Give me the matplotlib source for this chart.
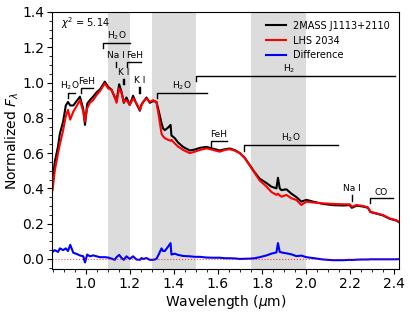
import numpy as np
import matplotlib
matplotlib.use('Agg')
import matplotlib.pyplot as plt
from matplotlib.ticker import MultipleLocator

# wavelength grid (micron) and the two normalized spectra
wave = [0.850, 0.860, 0.875, 0.883, 0.898, 0.910, 0.920, 0.930, 0.944, 0.956,
        0.974, 0.989, 0.997, 1.007, 1.019, 1.034, 1.050, 1.064, 1.087, 1.102,
        1.117, 1.132, 1.140, 1.152, 1.163, 1.173, 1.185, 1.200, 1.215, 1.230,
        1.246, 1.253, 1.261, 1.276, 1.291, 1.306, 1.321, 1.333, 1.344, 1.351,
        1.359, 1.374, 1.385, 1.389, 1.404, 1.419, 1.442, 1.472, 1.495, 1.518,
        1.548, 1.578, 1.608, 1.631, 1.654, 1.676, 1.699, 1.722, 1.744, 1.767,
        1.789, 1.820, 1.842, 1.865, 1.872, 1.880, 1.888, 1.910, 1.933, 1.956,
        1.978, 2.001, 2.031, 2.076, 2.122, 2.167, 2.197, 2.207, 2.228, 2.258,
        2.280, 2.291, 2.318, 2.348, 2.378, 2.408, 2.420]

lhs2034 = [0.39, 0.50, 0.60, 0.65, 0.73, 0.81, 0.845, 0.79, 0.835, 0.86,
           0.90, 0.835, 0.78, 0.855, 0.885, 0.90, 0.93, 0.95, 0.995, 0.967,
           0.958, 0.92, 0.885, 0.967, 0.94, 0.89, 0.90, 0.873, 0.91, 0.883,
           0.845, 0.87, 0.89, 0.91, 0.89, 0.90, 0.89, 0.80, 0.71, 0.695,
           0.685, 0.675, 0.67, 0.675, 0.655, 0.637, 0.618, 0.60, 0.608, 0.618,
           0.627, 0.618, 0.608, 0.618, 0.622, 0.614, 0.60, 0.571, 0.53, 0.486,
           0.445, 0.41, 0.38, 0.363, 0.37, 0.36, 0.353, 0.363, 0.344, 0.334,
           0.306, 0.325, 0.32, 0.315, 0.312, 0.31, 0.31, 0.296, 0.306, 0.30,
           0.293, 0.268, 0.259, 0.249, 0.23, 0.22, 0.21]

j1113 = [0.43, 0.55, 0.64, 0.71, 0.78, 0.87, 0.89, 0.87, 0.87, 0.89,
         0.92, 0.85, 0.76, 0.88, 0.90, 0.92, 0.945, 0.96, 1.005, 0.975,
         0.96, 0.915, 0.895, 0.99, 0.945, 0.885, 0.915, 0.873, 0.925, 0.88,
         0.84, 0.875, 0.89, 0.915, 0.885, 0.895, 0.89, 0.83, 0.77, 0.74,
         0.73, 0.745, 0.76, 0.70, 0.685, 0.66, 0.635, 0.615, 0.62, 0.63,
         0.635, 0.625, 0.615, 0.622, 0.626, 0.617, 0.60, 0.572, 0.532, 0.49,
         0.455, 0.43, 0.41, 0.40, 0.46, 0.40, 0.39, 0.395, 0.37, 0.35,
         0.325, 0.335, 0.325, 0.312, 0.305, 0.303, 0.305, 0.29, 0.302, 0.297,
         0.29, 0.266, 0.257, 0.247, 0.228, 0.218, 0.209]

# shaded telluric regions
bands = [(1.10, 1.20), (1.30, 1.50), (1.75, 2.00)]

# molecular bands: label, start, end, height, label position
band_labels = ['H$_2$O', 'FeH', 'H$_2$O', 'FeH', 'H$_2$O', 'H$_2$', 'FeH', 'H$_2$O', 'CO']
band_start = [0.918, 0.977, 1.080, 1.188, 1.322, 1.499, 1.568, 1.719, 2.289]
band_end = [0.951, 1.032, 1.201, 1.251, 1.551, 2.403, 1.642, 2.143, 2.392]
band_y = [0.94, 0.97, 1.223, 1.118, 0.94, 1.037, 0.671, 0.644, 0.346]
band_text_x = [0.929, 1.004, 1.140, 1.220, 1.436, 1.924, 1.604, 1.930, 2.342]

# atomic lines: label, positions, top of tick
line_labels = ['Na I', 'K I', 'K I', 'Na I']
line_pos = [[1.137], [1.168, 1.175], [1.240, 1.247], [2.208]]
line_y = [1.118, 1.02, 0.973, 0.361]

wave = np.array(wave)
lhs2034 = np.array(lhs2034)
j1113 = np.array(j1113)
diff = j1113 - lhs2034

fig = plt.figure(figsize=(4.12, 3.15), dpi=100)
ax = fig.add_axes([0.126, 0.146, 0.842, 0.816])

for b0, b1 in bands:
    ax.axvspan(b0, b1, color='#dcdcdc', lw=0, zorder=0)

ax.plot(wave, j1113, color='k', lw=1.5, label='2MASS J1113+2110')
ax.plot(wave, lhs2034, color='r', lw=1.5, label='LHS 2034')
ax.plot(wave, diff, color='b', lw=1.5, label='Difference')
ax.axhline(0, color='r', ls=':', lw=0.8, alpha=0.7)

for lab, x0, x1, y, tx in zip(band_labels, band_start, band_end, band_y, band_text_x):
    ax.plot([x0, x0, x1], [y - 0.03, y, y], color='k', lw=1)
    ax.text(tx, y + 0.008, lab, fontsize=6.5, ha='center', va='bottom')

for lab, xs, y in zip(line_labels, line_pos, line_y):
    for x in xs:
        ax.plot([x, x], [y - 0.03, y], color='k', lw=1)
    ax.text(np.mean(xs), y + 0.012, lab, fontsize=6.5, ha='center', va='bottom')

ax.text(0.026, 0.958, r'$\chi^2$ = 5.14', transform=ax.transAxes, fontsize=7, va='center')

ax.set_xlim(0.847, 2.42)
ax.set_ylim(-0.057, 1.4)
ax.xaxis.set_major_locator(MultipleLocator(0.2))
ax.xaxis.set_minor_locator(MultipleLocator(0.05))
ax.yaxis.set_major_locator(MultipleLocator(0.2))
ax.yaxis.set_minor_locator(MultipleLocator(0.05))
ax.tick_params(labelsize=10, pad=2)
ax.set_xlabel(r'Wavelength ($\mu$m)', fontsize=10, labelpad=2)
ax.set_ylabel(r'Normalized $F_\lambda$', fontsize=10, labelpad=1)
ax.legend(loc='upper right', fontsize=7, frameon=False)

fig.savefig('out.png', dpi=100)
